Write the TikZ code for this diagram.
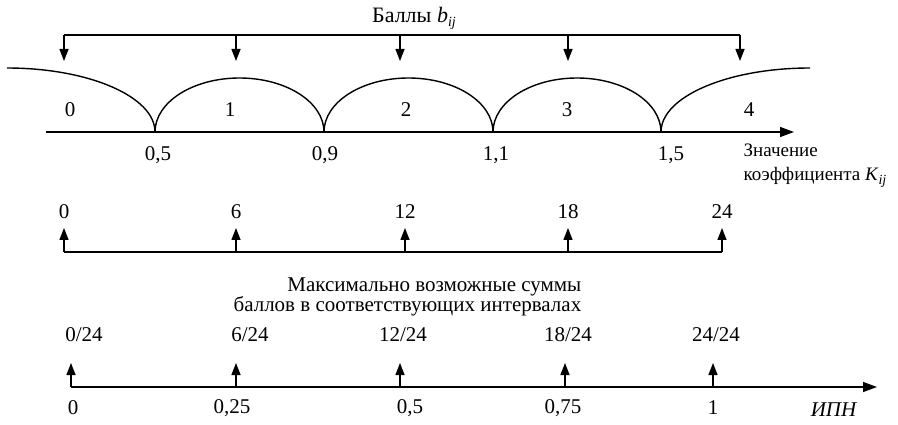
\documentclass[tikz,border=0pt]{standalone}
\usepackage{fontspec}
\setmainfont{Liberation Serif}
\usetikzlibrary{arrows.meta}

\newcommand{\ijsub}{\raisebox{-4pt}{\fontsize{14}{14}\selectfont\textit{ij}}}

\begin{document}
\begin{tikzpicture}[
    x=1pt, y=1pt,
    font=\fontsize{21}{24}\selectfont,
    line width=1.4pt,
    val_txt/.style={inner sep=0pt, anchor=center},
    pointer/.style={-{Triangle[length=12pt,width=9pt]}},
    axis_line/.style={-{Triangle[length=14pt,width=10pt]}}
]
\useasboundingbox (0,0) rectangle (898,-425);

% scores b_ij
\node (balls) [val_txt, font=\fontsize{22}{24}\selectfont] at (414,-18) {Баллы \textit{b}\ijsub};
\coordinate (b0) at (64,-35);   \coordinate (bt0) at (64,-61);
\coordinate (b1) at (236,-35);  \coordinate (bt1) at (236,-61);
\coordinate (b2) at (400,-35);  \coordinate (bt2) at (400,-61);
\coordinate (b3) at (568,-35);  \coordinate (bt3) at (568,-61);
\coordinate (b4) at (740,-35);  \coordinate (bt4) at (740,-61);
\draw (b0) -- (b4);
\draw [pointer] (b0) -- (bt0);
\draw [pointer] (b1) -- (bt1);
\draw [pointer] (b2) -- (bt2);
\draw [pointer] (b3) -- (bt3);
\draw [pointer] (b4) -- (bt4);

% coefficient axis with arches
\coordinate (kstart) at (46,-132);
\coordinate (kend)   at (794,-132);
\coordinate (kleft)  at (7,-68);
\coordinate (c1) at (155,-132);
\coordinate (c2) at (324,-132);
\coordinate (c3) at (493,-132);
\coordinate (c4) at (661,-132);
\draw [axis_line] (kstart) -- (kend);
\draw (kleft) arc[start angle=90, end angle=0, x radius=148pt, y radius=64pt];
\draw (c1) arc[start angle=180, end angle=0, x radius=84.5pt, y radius=54pt];
\draw (c2) arc[start angle=180, end angle=0, x radius=84.5pt, y radius=54pt];
\draw (c3) arc[start angle=180, end angle=0, x radius=84pt, y radius=54pt];
\draw (c4) arc[start angle=180, end angle=90, x radius=149pt, y radius=64pt];

\node (s0) [val_txt] at (70,-110)  {0};
\node (s1) [val_txt] at (230,-110) {1};
\node (s2) [val_txt] at (406,-110) {2};
\node (s3) [val_txt] at (567,-110) {3};
\node (s4) [val_txt] at (749,-110) {4};

\node (k1) [val_txt] at (158,-155) {0,5};
\node (k2) [val_txt] at (325,-155) {0,9};
\node (k3) [val_txt] at (496,-155) {1,1};
\node (k4) [val_txt] at (671,-155) {1,5};
\node (kname) [inner sep=0pt, anchor=west, align=left,
    font=\fontsize{19}{24}\selectfont] at (743,-166)
    {Значение\\коэффициента \textit{K}\ijsub};

% maximal sums
\node (m0) [val_txt] at (64,-212)  {0};
\node (m1) [val_txt] at (236,-212) {6};
\node (m2) [val_txt] at (405,-212) {12};
\node (m3) [val_txt] at (568,-212) {18};
\node (m4) [val_txt] at (722,-212) {24};
\coordinate (u0) at (64,-252);   \coordinate (ut0) at (64,-228);
\coordinate (u1) at (236,-252);  \coordinate (ut1) at (236,-228);
\coordinate (u2) at (405,-252);  \coordinate (ut2) at (405,-228);
\coordinate (u3) at (568,-252);  \coordinate (ut3) at (568,-228);
\coordinate (u4) at (722,-252);  \coordinate (ut4) at (722,-228);
\draw (u0) -- (u4);
\draw [pointer] (u0) -- (ut0);
\draw [pointer] (u1) -- (ut1);
\draw [pointer] (u2) -- (ut2);
\draw [pointer] (u3) -- (ut3);
\draw [pointer] (u4) -- (ut4);

\node (sums) [inner sep=0pt, anchor=east, align=right,
    font=\fontsize{21}{18}\selectfont] at (582,-297)
    {Максимально возможные суммы\\баллов в соответствующих интервалах};

% IPN axis
\node (f0) [val_txt] at (84,-335)  {0/24};
\node (f1) [val_txt] at (250,-335) {6/24};
\node (f2) [val_txt] at (403,-335) {12/24};
\node (f3) [val_txt] at (568,-335) {18/24};
\node (f4) [val_txt] at (716,-335) {24/24};
\coordinate (istart) at (71,-387);
\coordinate (iend)   at (877,-387);
\draw [axis_line] (istart) -- (iend);
\coordinate (ut5) at (71,-363);
\coordinate (ut6) at (236,-363);  \coordinate (i1) at (236,-387);
\coordinate (ut7) at (400,-363);  \coordinate (i2) at (400,-387);
\coordinate (ut8) at (565,-363);  \coordinate (i3) at (565,-387);
\coordinate (ut9) at (713,-363);  \coordinate (i4) at (713,-387);
\draw [pointer] (istart) -- (ut5);
\draw [pointer] (i1) -- (ut6);
\draw [pointer] (i2) -- (ut7);
\draw [pointer] (i3) -- (ut8);
\draw [pointer] (i4) -- (ut9);

\node (p0) [val_txt] at (73,-408)  {0};
\node (p1) [val_txt] at (232,-408) {0,25};
\node (p2) [val_txt] at (410,-408) {0,5};
\node (p3) [val_txt] at (563,-408) {0,75};
\node (p4) [val_txt] at (713,-408) {1};
\node (ipn) [val_txt] at (834,-410) {\textit{ИПН}};

\end{tikzpicture}
\end{document}
